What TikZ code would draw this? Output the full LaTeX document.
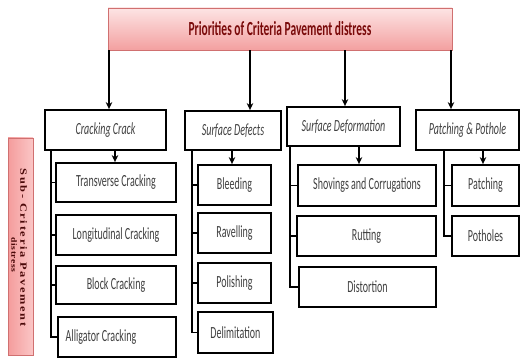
\documentclass[tikz,border=0pt]{standalone}
\usepackage{fontspec}
\setmainfont{Carlito}
\newfontfamily\sideA{Liberation Serif}[FakeStretch=1.3, LetterSpace=18]
\newfontfamily\sideB{Liberation Serif}[FakeStretch=1.2, LetterSpace=6]
\usetikzlibrary{arrows.meta,shadows}
\definecolor{txt}{HTML}{404040}
\definecolor{ttl}{HTML}{7A0A0A}
\definecolor{sidet}{HTML}{4A0808}
\definecolor{pinkA}{HTML}{FDE4E4}
\definecolor{pinkB}{HTML}{F3A0A0}
\definecolor{pinkC}{HTML}{F49C9C}
\definecolor{pinkD}{HTML}{FBC6C6}
\definecolor{pinkBorder}{HTML}{D07070}
\newcommand{\vs}[1]{\scalebox{1}[1.7]{#1}}
\tikzset{
  box/.style={draw=black, line width=1.8pt, fill=white, text=txt, inner sep=0pt,
    font=\fontsize{10}{12}\selectfont,
    drop shadow={shadow xshift=1.2pt, shadow yshift=-1.2pt, fill=black, opacity=0.35}},
  cat/.style={box, font=\fontsize{10}{12}\selectfont\itshape},
  arr/.style={line width=1.4pt, -{Stealth[length=7pt,width=6.5pt]}},
  link/.style={line width=1.4pt},
  sidetext/.style={rotate=-90, inner sep=0pt, text=sidet},
}
\begin{document}
\begin{tikzpicture}[x=1pt,y=-1pt]
\useasboundingbox (0,0) rectangle (520,358);
% title
\node[draw=pinkBorder, line width=0.8pt, top color=pinkA, bottom color=pinkB,
  minimum width=344pt, minimum height=42pt, inner sep=0pt,
  drop shadow={shadow xshift=1pt, shadow yshift=-1pt, fill=black, opacity=0.25}]
  (top) at (280,29) {\scalebox{0.92}[1.6]{\fontsize{12.5}{14}\selectfont\bfseries\color{ttl}Priorities of Criteria Pavement distress}};
% categories
\node[cat, minimum width=121pt, minimum height=40pt] (cc) at (105.5,130) {\vs{Cracking Crack}};
\node[cat, minimum width=96pt, minimum height=39pt] (sd) at (233,130.5) {\vs{Surface Defects}};
\node[cat, minimum width=113pt, minimum height=39pt] (sf) at (343.5,126.5) {\vs{Surface Deformation}};
\node[cat, minimum width=103pt, minimum height=40pt] (pp) at (467.5,130) {\vs{Patching \& Pothole}};
% cracking children
\node[box, minimum width=120pt, minimum height=39pt] (c1) at (116,182.5) {\vs{Transverse Cracking}};
\node[box, minimum width=120pt, minimum height=40pt] (c2) at (116,235) {\vs{Longitudinal Cracking}};
\node[box, minimum width=120pt, minimum height=38pt] (c3) at (116,285) {\vs{Block Cracking}};
\node[box, minimum width=118pt, minimum height=40pt] (c4) at (117,337) {\vs{Alligator Cracking}\hspace*{32pt}};
% surface defects children
\node[box, minimum width=73pt, minimum height=40pt] (d1) at (234.5,185) {\vs{Bleeding}};
\node[box, minimum width=73pt, minimum height=40pt] (d2) at (234.5,233) {\vs{Ravelling}};
\node[box, minimum width=73pt, minimum height=40pt] (d3) at (234.5,283) {\vs{Polishing}};
\node[box, minimum width=75pt, minimum height=41pt] (d4) at (235.5,332.5) {\vs{Delimitation}};
% surface deformation children
\node[box, minimum width=138pt, minimum height=41pt] (f1) at (367,185.5) {\vs{Shovings and Corrugations}};
\node[box, minimum width=139pt, minimum height=40pt] (f2) at (366.5,236) {\vs{Rutting}};
\node[box, minimum width=137pt, minimum height=40pt] (f3) at (367.5,287) {\vs{Distortion}};
% patching children
\node[box, minimum width=67pt, minimum height=41pt] (q1) at (485.5,185.5) {\vs{Patching}};
\node[box, minimum width=67pt, minimum height=40pt] (q2) at (485.5,236) {\vs{Potholes}};
% side bar
\node[draw=pinkBorder, line width=0.6pt, left color=pinkC, right color=pinkD,
  minimum width=25pt, minimum height=217pt, inner sep=0pt,
  drop shadow={shadow xshift=0.8pt, shadow yshift=-1.2pt, fill=black, opacity=0.3}]
  (side) at (20.5,246.5) {};
\node[sidetext] (sl1) at (23.5,247.5)
  {\fontsize{9.5}{11}\sideA\bfseries Sub- Criteria Pavement};
\node[sidetext] (sl2) at (14,255)
  {\fontsize{8}{9}\sideB\bfseries distress};
% arrows from title
\coordinate (a1) at (109,0);
\coordinate (a2) at (250,0);
\coordinate (a3) at (345,0);
\coordinate (a4) at (451,0);
\draw[arr] (top.south -| a1) -- (cc.north -| a1);
\draw[arr] (top.south -| a2) -- (sd.north -| a2);
\draw[arr] (top.south -| a3) -- (sf.north -| a3);
\draw[arr] (top.south -| a4) -- (pp.north -| a4);
% cracking tree
\coordinate (v1) at (51,0);
\coordinate (k1) at (115,0);
\draw[link] (cc.south -| v1) |- (c4.west);
\draw[link] (v1 |- c1.west) -- (c1.west);
\draw[link] (v1 |- c2.west) -- (c2.west);
\draw[link] (v1 |- c3.west) -- (c3.west);
\draw[arr] (cc.south -| k1) -- (c1.north -| k1);
% defects tree
\coordinate (v2) at (192,0);
\coordinate (k2) at (232,0);
\draw[link] (sd.south -| v2) |- (d4.west);
\draw[link] (v2 |- d1.west) -- (d1.west);
\draw[link] (v2 |- d2.west) -- (d2.west);
\draw[link] (v2 |- d3.west) -- (d3.west);
\draw[arr] (sd.south -| k2) -- (d1.north -| k2);
% deformation tree
\coordinate (v3) at (290,0);
\coordinate (k3) at (359,0);
\draw[link] (sf.south -| v3) |- (f3.west);
\draw[link] (v3 |- f1.west) -- (f1.west);
\draw[link] (v3 |- f2.west) -- (f2.west);
\draw[arr] (sf.south -| k3) -- (f1.north -| k3);
% patching tree
\coordinate (v4) at (444,0);
\coordinate (k4) at (483,0);
\draw[link] (pp.south -| v4) |- (q2.west);
\draw[link] (v4 |- q1.west) -- (q1.west);
\draw[arr] (pp.south -| k4) -- (q1.north -| k4);
\end{tikzpicture}
\end{document}
